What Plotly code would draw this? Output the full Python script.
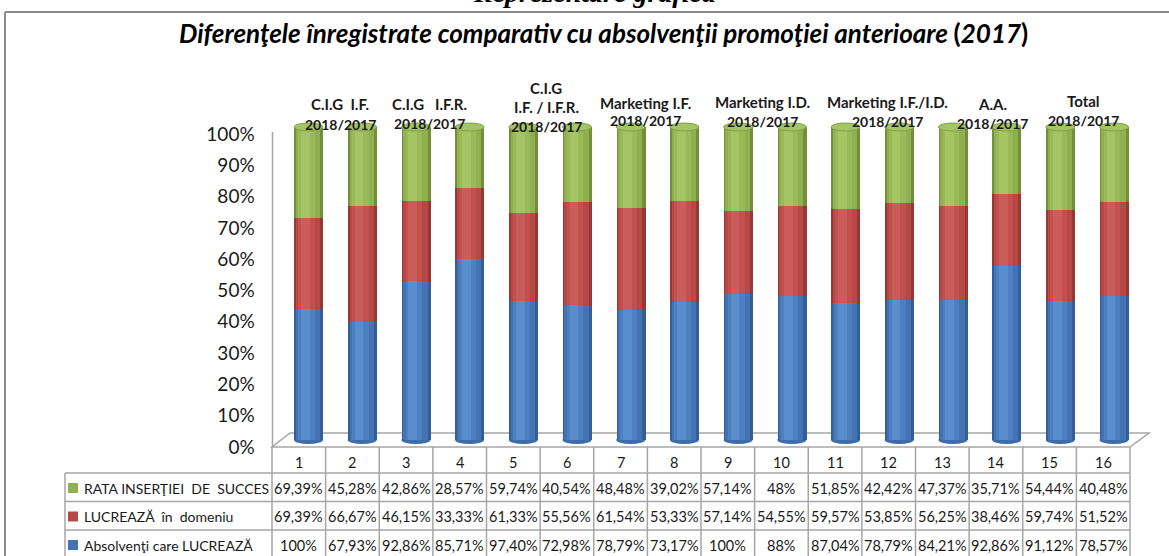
import plotly.graph_objects as go
import numpy as np

W, H = 1169, 556

# ---------------- data ----------------
categories = [str(i) for i in range(1, 17)]
rata_insertiei = [69.39, 45.28, 42.86, 28.57, 59.74, 40.54, 48.48, 39.02,
                  57.14, 48, 51.85, 42.42, 47.37, 35.71, 54.44, 40.48]
lucreaza_domeniu = [69.39, 66.67, 46.15, 33.33, 61.33, 55.56, 61.54, 53.33,
                    57.14, 54.55, 59.57, 53.85, 56.25, 38.46, 59.74, 51.52]
absolventi_lucreaza = [100, 67.93, 92.86, 85.71, 97.40, 72.98, 78.79, 73.17,
                       100, 88, 87.04, 78.79, 84.21, 92.86, 91.12, 78.57]
name_rata = "RATA INSERŢIEI  DE  SUCCES"
name_domeniu = "LUCREAZĂ  în  domeniu"
name_absolventi = "Absolvenţi care LUCREAZĂ"
y_tick_values = [0, 10, 20, 30, 40, 50, 60, 70, 80, 90, 100]
y_tick_labels = [f"{v}%" for v in y_tick_values]
group_labels = [
    ["C.I.G  I.F.", "2018/2017"],
    ["C.I.G   I.F.R.", "2018/2017"],
    ["C.I.G", "I.F. / I.F.R.", "2018/2017"],
    ["Marketing I.F.", "2018/2017"],
    ["Marketing I.D.", "2018/2017"],
    ["Marketing I.F./I.D.", "2018/2017"],
    ["A.A.", "2018/2017"],
    ["Total", "2018/2017"],
]
chart_title = "Diferenţele înregistrate comparativ cu absolvenţii promoţiei anterioare"
chart_year = "2017"
page_heading = "Reprezentare grafică"

# ---------------- layout helpers (pixel -> paper) ----------------
def PX(x):
    return x / W


def PY(y):
    return 1 - y / H


FONT = "Lato, Open Sans, Liberation Sans, sans-serif"
TXT = "#1a1a1a"
GRID = "#a6a6a6"

# plot geometry
X_LEFT_PIX, X_RIGHT_PIX = 281.65, 1140.85          # x = 0.5 .. 16.5
Y0_PIX, PX_PER_UNIT = 440.0, 3.13                   # value 0 at 440px
Y_MIN, Y_MAX = -3, 103


def ypix(v):
    return Y0_PIX - v * PX_PER_UNIT


BW = 0.54  # bar width in category units

# ---------------- stacking (100% normalised) ----------------
a = np.array(absolventi_lucreaza, float)
b = np.array(lucreaza_domeniu, float)
c = np.array(rata_insertiei, float)
tot = a + b + c
sa, sb, sc = a / tot * 100, b / tot * 100, c / tot * 100
base_a = np.zeros_like(sa)
base_b = sa
base_c = sa + sb
xs = np.arange(1, len(categories) + 1)

palettes = {
    "blue": ["#335e98", "#4373b3", "#4d80c0", "#5a8dcc"],
    "red": ["#973835", "#b64845", "#c2514e", "#ca5c59"],
    "green": ["#738f3c", "#90b050", "#9aba59", "#a5c565"],
}
layers = [(1.00, 0.00), (0.84, -0.03), (0.58, -0.08), (0.30, -0.12)]

fig = go.Figure()
for heights, bases, pal, nm in [
    (sa, base_a, palettes["blue"], name_absolventi),
    (sb, base_b, palettes["red"], name_domeniu),
    (sc, base_c, palettes["green"], name_rata),
]:
    for (wf, shift), col in zip(layers, pal):
        w = BW * wf
        fig.add_trace(go.Bar(
            x=xs, y=heights, base=bases,
            width=w, offset=shift * BW - w / 2,
            marker=dict(color=col, line=dict(width=0)),
            name=nm, showlegend=False, hoverinfo="skip",
        ))

shapes = []
# chart outer border
shapes.append(dict(type="line", xref="paper", yref="paper",
                   x0=PX(5), x1=PX(W + 5), y0=PY(12), y1=PY(12),
                   line=dict(color="#8c8c8c", width=2)))
shapes.append(dict(type="line", xref="paper", yref="paper",
                   x0=PX(5), x1=PX(5), y0=PY(12), y1=PY(H + 5),
                   line=dict(color="#8c8c8c", width=2)))
# 3D floor & back wall line
shapes.append(dict(type="path", xref="paper", yref="paper", layer="below",
                   path=f"M {PX(272)},{PY(447)} L {PX(1130)},{PY(447)} "
                        f"L {PX(1149)},{PY(433)} L {PX(290)},{PY(433)} Z",
                   fillcolor="white", line=dict(color=GRID, width=1.5)))
shapes.append(dict(type="line", xref="paper", yref="paper", layer="below",
                   x0=PX(272.5), x1=PX(272.5), y0=PY(132), y1=PY(447),
                   line=dict(color=GRID, width=1.5)))

# cylinder caps (from data)
EH = 4.0 / PX_PER_UNIT
top_vals = base_c + sc
for xi, tv in zip(xs, top_vals):
    shapes.append(dict(type="circle", xref="x", yref="y", layer="below",
                       x0=xi - BW / 2, x1=xi + BW / 2, y0=-EH, y1=EH,
                       fillcolor="#3c6cab", line=dict(width=0)))
    shapes.append(dict(type="circle", xref="x", yref="y", layer="above",
                       x0=xi - BW / 2, x1=xi + BW / 2, y0=tv - EH, y1=tv + EH,
                       fillcolor="#a4c468", line=dict(color="#80a042", width=1)))

# ---------------- data table ----------------
T_LEFT, T_COL0, T_RIGHT = 65, 272, 1130
COLW = (T_RIGHT - T_COL0) / len(categories)
ROW_LINES = [473, 501.5, 530]
for k in range(len(categories) + 1):
    x = T_COL0 + k * COLW
    shapes.append(dict(type="line", xref="paper", yref="paper",
                       x0=PX(x), x1=PX(x), y0=PY(447), y1=PY(H + 5),
                       line=dict(color=GRID, width=1.5)))
shapes.append(dict(type="line", xref="paper", yref="paper",
                   x0=PX(T_LEFT), x1=PX(T_LEFT), y0=PY(473), y1=PY(H + 5),
                   line=dict(color=GRID, width=1.5)))
for yl in ROW_LINES:
    shapes.append(dict(type="line", xref="paper", yref="paper",
                       x0=PX(T_LEFT), x1=PX(T_RIGHT), y0=PY(yl), y1=PY(yl),
                       line=dict(color=GRID, width=1.5)))


def fmt(v):
    if float(v).is_integer():
        return f"{int(v)}%"
    return f"{v:.2f}".replace(".", ",") + "%"


annotations = []
ROW_Y = [462, 488, 516.5, 545]
for k, cat in enumerate(categories):
    cx = T_COL0 + (k + 0.5) * COLW
    annotations.append(dict(x=PX(cx), y=PY(ROW_Y[0]), text=cat))
    for r, arr in enumerate([rata_insertiei, lucreaza_domeniu, absolventi_lucreaza]):
        annotations.append(dict(x=PX(cx), y=PY(ROW_Y[r + 1]), text=fmt(arr[k])))
for ann in annotations:
    ann.update(xref="paper", yref="paper", showarrow=False,
               xanchor="center", yanchor="middle",
               font=dict(family=FONT, size=14.5, color=TXT))

row_colors = [palettes["green"][1], palettes["red"][1], palettes["blue"][1]]
for r, (nm, col) in enumerate(zip([name_rata, name_domeniu, name_absolventi], row_colors)):
    yc = ROW_Y[r + 1]
    shapes.append(dict(type="rect", xref="paper", yref="paper",
                       x0=PX(68), x1=PX(78), y0=PY(yc + 5), y1=PY(yc - 5),
                       fillcolor=col, line=dict(width=0)))
    annotations.append(dict(x=PX(82), y=PY(yc), text=nm.replace("  ", "&nbsp; "),
                            xref="paper", yref="paper", showarrow=False,
                            xanchor="left", yanchor="middle",
                            font=dict(family=FONT, size=14, color=TXT)))

# ---------------- group labels ----------------
GROUP_POS = [
    (340, [104, 125]),
    (430, [104, 124]),
    (546, [88, 107, 126]),
    (645.5, [103, 121]),
    (762, [102.5, 122]),
    (887, [102.5, 122]),
    (992, [104, 124]),
    (1083, [101.5, 121]),
]
for lines, (gx, gys) in zip(group_labels, GROUP_POS):
    for line, gy in zip(lines, gys):
        size = 14 if line[0].isdigit() else 15
        annotations.append(dict(x=PX(gx), y=PY(gy), text=f"<b>{line}</b>".replace("  ", "&nbsp; "),
                                xref="paper", yref="paper", showarrow=False,
                                xanchor="center", yanchor="middle",
                                font=dict(family=FONT, size=size, color=TXT)))

# ---------------- titles ----------------
annotations.append(dict(x=PX(603), y=PY(33),
                        text=f"<b><i>{chart_title} </i>(<i>{chart_year}</i>)</b>",
                        xref="paper", yref="paper", showarrow=False,
                        xanchor="center", yanchor="middle",
                        font=dict(family=FONT, size=26, color="#000000")))
annotations.append(dict(x=PX(594), y=PY(-8),
                        text=f"<b><i>{page_heading}</i></b>",
                        xref="paper", yref="paper", showarrow=False,
                        xanchor="center", yanchor="middle",
                        font=dict(family="Liberation Serif, Times New Roman, serif",
                                  size=28, color="#000000")))

fig.update_layout(
    width=W, height=H, template="none",
    margin=dict(l=0, r=0, t=0, b=0, autoexpand=False),
    paper_bgcolor="white", plot_bgcolor="rgba(0,0,0,0)",
    barmode="overlay", bargap=0,
    showlegend=False,
    xaxis=dict(domain=[PX(X_LEFT_PIX), PX(X_RIGHT_PIX)], range=[0.5, 16.5],
               showgrid=False, zeroline=False, showline=False,
               showticklabels=False, ticks="", automargin=False, fixedrange=True),
    yaxis=dict(domain=[PY(ypix(Y_MIN)), PY(ypix(Y_MAX))], range=[Y_MIN, Y_MAX],
               tickvals=y_tick_values, ticktext=y_tick_labels,
               ticklabelshift=7, ticklabelstandoff=26,
               tickfont=dict(family=FONT, size=19, color=TXT),
               showgrid=False, zeroline=False, showline=False, ticks="",
               automargin=False, fixedrange=True),
    shapes=shapes,
    annotations=annotations,
)

fig.write_html("out.html", config={"displayModeBar": False},
               post_script="document.body.style.margin='0';document.body.style.padding='0';")
